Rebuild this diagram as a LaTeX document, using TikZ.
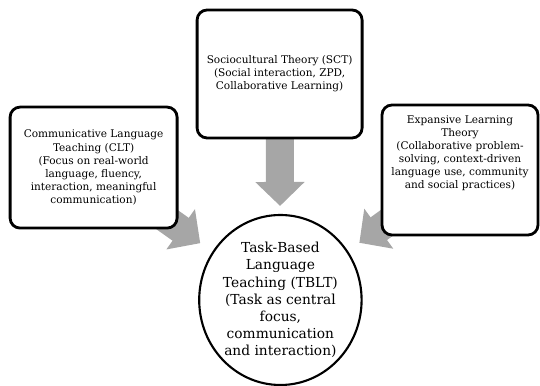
\documentclass[tikz,border=0pt]{standalone}
\usepackage{fontspec}
\setmainfont{DejaVu Serif}
\usetikzlibrary{arrows.meta}
\usetikzlibrary{shapes.geometric}
\usetikzlibrary{backgrounds}
\definecolor{arrowgray}{HTML}{A6A6A6}

\begin{document}
\begin{tikzpicture}
        \tikzset{theory/.style = {shape=rectangle,draw,line width=2pt,rounded corners=0.25cm,fill=white,align=center,font=\fontsize{7.5}{9.3}\selectfont}}
        \tikzset{core/.style = {shape=ellipse,draw,line width=1.5pt,fill=white,inner sep=0pt,align=center,font=\fontsize{9.8}{12.2}\selectfont}}
        \tikzset{feed/.style = {draw=arrowgray,line width=0.7cm,-{Triangle[width=1.2cm,length=0.6cm]},arrowgray,shorten <=-0.5cm}}
        \useasboundingbox (0,0) rectangle (13.5,9.65);

        \node[theory, minimum width=4.175cm, minimum height=3.025cm] (clt) at (2.34,5.46) {Communicative Language\\Teaching (CLT)\\(Focus on real-world\\language, fluency,\\interaction, meaningful\\communication)};
        \node[theory, minimum width=4.125cm, minimum height=3.2cm] (sct) at (6.99,7.8) {Sociocultural Theory (SCT)\\(Social interaction, ZPD,\\Collaborative Learning)};
        \node[theory, minimum width=3.9cm, minimum height=3.25cm] (elt) at (11.5,5.4) {};
        \node[align=center, font=\fontsize{7.5}{9.3}\selectfont] (elttext) at ([yshift=0.42cm]elt.center) {Expansive Learning\\Theory\\(Collaborative problem-\\solving, context-driven\\language use, community\\and social practices)};
        \node[core, minimum width=3.975cm, minimum height=4.25cm] (tblt) at (7.01,2.15) {Task-Based\\Language\\Teaching (TBLT)\\(Task as central\\focus,\\communication\\and interaction)};

        % block arrows behind the boxes
        \begin{scope}[on background layer]
        \draw[feed, shorten >=0.2cm] (sct) -- (tblt);
        \draw[feed, shorten >=0.37cm] (clt) -- (tblt);
        \draw[feed, shorten >=0.35cm] (elt) -- (tblt);
        \end{scope}
    \end{tikzpicture}
\end{document}
